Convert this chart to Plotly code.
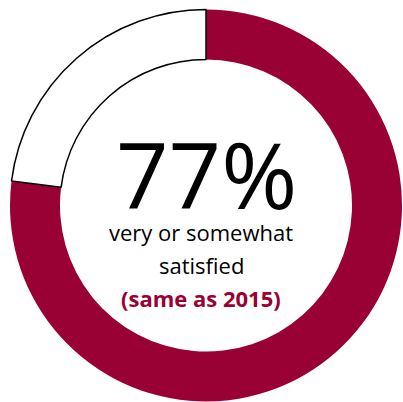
import plotly.graph_objects as go

labels = ["Very or somewhat satisfied", "Other"]
values = [77, 23]
colors = ["#990033", "#ffffff"]
line_colors = ["#990033", "#000000"]
headline = "77%"
sub_lines = ["very or somewhat", "satisfied"]
note = "(same as 2015)"

fig = go.Figure(go.Pie(
    labels=labels, values=values, sort=False, direction="clockwise", rotation=0,
    hole=0.745, textinfo="none", hoverinfo="label+percent",
    marker=dict(colors=colors, line=dict(color=line_colors, width=[0, 1.5])),
    domain=dict(x=[10/403, 402/403], y=[0.0, 1 - 9/402]),
    showlegend=False,
))

fnt = "Open Sans"
fig.add_annotation(text=headline, x=206/403, y=1 - 174/402, xref="paper", yref="paper",
                   showarrow=False, xanchor="center", yanchor="middle",
                   font=dict(family=fnt, size=92, color="#000000"))
fig.add_annotation(text=sub_lines[0], x=201/403, y=1 - 232/402, xref="paper", yref="paper",
                   showarrow=False, xanchor="center", yanchor="middle",
                   font=dict(family=fnt, size=22, color="#000000"))
fig.add_annotation(text=sub_lines[1], x=202/403, y=1 - 265/402, xref="paper", yref="paper",
                   showarrow=False, xanchor="center", yanchor="middle",
                   font=dict(family=fnt, size=22, color="#000000"))
fig.add_annotation(text="<b>" + note + "</b>", x=201/403, y=1 - 298/402, xref="paper", yref="paper",
                   showarrow=False, xanchor="center", yanchor="middle",
                   font=dict(family=fnt, size=22, color="#990033"))

fig.update_layout(width=403, height=402, margin=dict(l=0, r=0, t=0, b=0),
                  paper_bgcolor="white", plot_bgcolor="white")
fig.write_html("out.html")
